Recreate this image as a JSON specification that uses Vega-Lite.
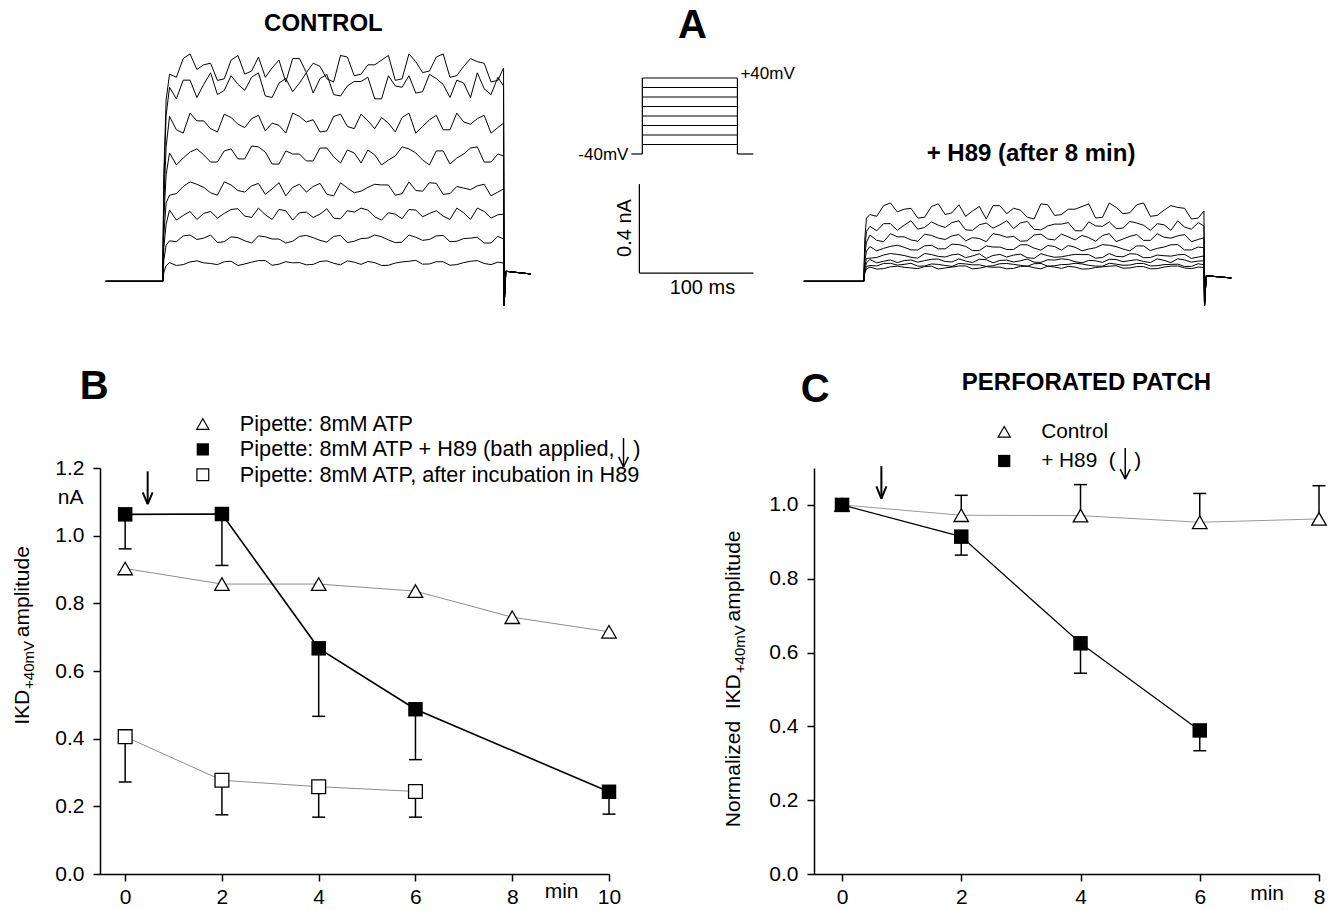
{
"$schema": "https://vega.github.io/schema/vega-lite/v6.json",
"background": "white",
"padding": {"left": 12, "top": 5, "right": 0, "bottom": 0},
"autosize": {"type": "pad"},
"config": {
 "view": {"stroke": null},
 "font": "Liberation Sans",
 "text": {"font": "Liberation Sans", "fontSize": 20, "color": "black"},
 "axis": {"domainColor": "black", "domainWidth": 1.5, "tickColor": "black", "tickWidth": 1.5, "tickSize": 7, "labelFont": "Liberation Sans", "labelFontSize": 21, "labelColor": "black", "grid": false, "labelFlush": false, "labelOverlap": false},
 "axisX": {"labelPadding": 5},
 "axisY": {"labelPadding": 9}
},
"datasets": {
"ctl": [
{"k":1,"t":0,"i":0},{"k":1,"t":50,"i":0},{"k":1,"t":51,"i":0.041},{"k":1,"t":53,"i":0.07},{"k":1,"t":56,"i":0.084},{"k":1,"t":68,"i":0.075},{"k":1,"t":80,"i":0.092},{"k":1,"t":92,"i":0.08},{"k":1,"t":104,"i":0.088},{"k":1,"t":116,"i":0.071},{"k":1,"t":128,"i":0.086},{"k":1,"t":140,"i":0.093},{"k":1,"t":152,"i":0.077},{"k":1,"t":164,"i":0.083},{"k":1,"t":176,"i":0.074},{"k":1,"t":188,"i":0.089},{"k":1,"t":200,"i":0.081},{"k":1,"t":212,"i":0.092},{"k":1,"t":224,"i":0.076},{"k":1,"t":236,"i":0.084},{"k":1,"t":248,"i":0.072},{"k":1,"t":260,"i":0.087},{"k":1,"t":272,"i":0.094},{"k":1,"t":284,"i":0.078},{"k":1,"t":296,"i":0.088},{"k":1,"t":308,"i":0.075},{"k":1,"t":320,"i":0.09},{"k":1,"t":332,"i":0.08},{"k":1,"t":344,"i":0.086},{"k":1,"t":349,"i":0.082},{"k":1,"t":349.5,"i":-0.11},{"k":1,"t":351,"i":0.045},{"k":1,"t":373,"i":0.033},
{"k":1,"t":62,"i":0.071},{"k":1,"t":74,"i":0.087},{"k":1,"t":86,"i":0.083},{"k":1,"t":98,"i":0.075},{"k":1,"t":110,"i":0.09},{"k":1,"t":122,"i":0.078},{"k":1,"t":134,"i":0.093},{"k":1,"t":146,"i":0.072},{"k":1,"t":158,"i":0.088},{"k":1,"t":170,"i":0.084},{"k":1,"t":182,"i":0.076},{"k":1,"t":194,"i":0.092},{"k":1,"t":206,"i":0.074},{"k":1,"t":218,"i":0.086},{"k":1,"t":230,"i":0.089},{"k":1,"t":242,"i":0.071},{"k":1,"t":254,"i":0.082},{"k":1,"t":266,"i":0.09},{"k":1,"t":278,"i":0.077},{"k":1,"t":290,"i":0.088},{"k":1,"t":302,"i":0.072},{"k":1,"t":314,"i":0.084},{"k":1,"t":326,"i":0.093},{"k":1,"t":338,"i":0.075},
{"k":2,"t":0,"i":0},{"k":2,"t":50,"i":0},{"k":2,"t":51,"i":0.095},{"k":2,"t":53,"i":0.162},{"k":2,"t":56,"i":0.182},{"k":2,"t":68,"i":0.204},{"k":2,"t":80,"i":0.188},{"k":2,"t":92,"i":0.208},{"k":2,"t":104,"i":0.178},{"k":2,"t":116,"i":0.196},{"k":2,"t":128,"i":0.172},{"k":2,"t":140,"i":0.2},{"k":2,"t":152,"i":0.19},{"k":2,"t":164,"i":0.18},{"k":2,"t":176,"i":0.206},{"k":2,"t":188,"i":0.184},{"k":2,"t":200,"i":0.202},{"k":2,"t":212,"i":0.174},{"k":2,"t":224,"i":0.192},{"k":2,"t":236,"i":0.208},{"k":2,"t":248,"i":0.186},{"k":2,"t":260,"i":0.176},{"k":2,"t":272,"i":0.198},{"k":2,"t":284,"i":0.188},{"k":2,"t":296,"i":0.206},{"k":2,"t":308,"i":0.18},{"k":2,"t":320,"i":0.194},{"k":2,"t":332,"i":0.172},{"k":2,"t":344,"i":0.202},{"k":2,"t":349,"i":0.19},{"k":2,"t":349.5,"i":-0.11},{"k":2,"t":351,"i":0.045},{"k":2,"t":373,"i":0.033},
{"k":2,"t":62,"i":0.178},{"k":2,"t":74,"i":0.208},{"k":2,"t":86,"i":0.194},{"k":2,"t":98,"i":0.174},{"k":2,"t":110,"i":0.2},{"k":2,"t":122,"i":0.182},{"k":2,"t":134,"i":0.204},{"k":2,"t":146,"i":0.19},{"k":2,"t":158,"i":0.172},{"k":2,"t":170,"i":0.202},{"k":2,"t":182,"i":0.196},{"k":2,"t":194,"i":0.176},{"k":2,"t":206,"i":0.206},{"k":2,"t":218,"i":0.18},{"k":2,"t":230,"i":0.194},{"k":2,"t":242,"i":0.2},{"k":2,"t":254,"i":0.174},{"k":2,"t":266,"i":0.208},{"k":2,"t":278,"i":0.184},{"k":2,"t":290,"i":0.204},{"k":2,"t":302,"i":0.178},{"k":2,"t":314,"i":0.192},{"k":2,"t":326,"i":0.198},{"k":2,"t":338,"i":0.172},
{"k":3,"t":0,"i":0},{"k":3,"t":50,"i":0},{"k":3,"t":51,"i":0.151},{"k":3,"t":53,"i":0.257},{"k":3,"t":56,"i":0.32},{"k":3,"t":68,"i":0.296},{"k":3,"t":80,"i":0.278},{"k":3,"t":92,"i":0.314},{"k":3,"t":104,"i":0.305},{"k":3,"t":116,"i":0.326},{"k":3,"t":128,"i":0.287},{"k":3,"t":140,"i":0.299},{"k":3,"t":152,"i":0.323},{"k":3,"t":164,"i":0.275},{"k":3,"t":176,"i":0.311},{"k":3,"t":188,"i":0.302},{"k":3,"t":200,"i":0.284},{"k":3,"t":212,"i":0.317},{"k":3,"t":224,"i":0.329},{"k":3,"t":236,"i":0.29},{"k":3,"t":248,"i":0.308},{"k":3,"t":260,"i":0.281},{"k":3,"t":272,"i":0.32},{"k":3,"t":284,"i":0.305},{"k":3,"t":296,"i":0.293},{"k":3,"t":308,"i":0.329},{"k":3,"t":320,"i":0.278},{"k":3,"t":332,"i":0.314},{"k":3,"t":344,"i":0.299},{"k":3,"t":349,"i":0.302},{"k":3,"t":349.5,"i":-0.11},{"k":3,"t":351,"i":0.045},{"k":3,"t":373,"i":0.033},
{"k":3,"t":62,"i":0.275},{"k":3,"t":74,"i":0.314},{"k":3,"t":86,"i":0.305},{"k":3,"t":98,"i":0.284},{"k":3,"t":110,"i":0.323},{"k":3,"t":122,"i":0.293},{"k":3,"t":134,"i":0.329},{"k":3,"t":146,"i":0.278},{"k":3,"t":158,"i":0.317},{"k":3,"t":170,"i":0.308},{"k":3,"t":182,"i":0.287},{"k":3,"t":194,"i":0.326},{"k":3,"t":206,"i":0.281},{"k":3,"t":218,"i":0.311},{"k":3,"t":230,"i":0.32},{"k":3,"t":242,"i":0.275},{"k":3,"t":254,"i":0.302},{"k":3,"t":266,"i":0.323},{"k":3,"t":278,"i":0.29},{"k":3,"t":290,"i":0.317},{"k":3,"t":302,"i":0.278},{"k":3,"t":314,"i":0.308},{"k":3,"t":326,"i":0.329},{"k":3,"t":338,"i":0.284},
{"k":4,"t":0,"i":0},{"k":4,"t":50,"i":0},{"k":4,"t":51,"i":0.208},{"k":4,"t":53,"i":0.353},{"k":4,"t":56,"i":0.387},{"k":4,"t":68,"i":0.426},{"k":4,"t":80,"i":0.436},{"k":4,"t":92,"i":0.398},{"k":4,"t":104,"i":0.447},{"k":4,"t":116,"i":0.408},{"k":4,"t":128,"i":0.429},{"k":4,"t":140,"i":0.391},{"k":4,"t":152,"i":0.443},{"k":4,"t":164,"i":0.422},{"k":4,"t":176,"i":0.401},{"k":4,"t":188,"i":0.44},{"k":4,"t":200,"i":0.384},{"k":4,"t":212,"i":0.419},{"k":4,"t":224,"i":0.405},{"k":4,"t":236,"i":0.436},{"k":4,"t":248,"i":0.433},{"k":4,"t":260,"i":0.394},{"k":4,"t":272,"i":0.408},{"k":4,"t":284,"i":0.443},{"k":4,"t":296,"i":0.391},{"k":4,"t":308,"i":0.426},{"k":4,"t":320,"i":0.412},{"k":4,"t":332,"i":0.436},{"k":4,"t":344,"i":0.401},{"k":4,"t":349,"i":0.415},{"k":4,"t":349.5,"i":-0.11},{"k":4,"t":351,"i":0.045},{"k":4,"t":373,"i":0.033},
{"k":4,"t":62,"i":0.394},{"k":4,"t":74,"i":0.447},{"k":4,"t":86,"i":0.422},{"k":4,"t":98,"i":0.387},{"k":4,"t":110,"i":0.433},{"k":4,"t":122,"i":0.401},{"k":4,"t":134,"i":0.44},{"k":4,"t":146,"i":0.415},{"k":4,"t":158,"i":0.384},{"k":4,"t":170,"i":0.436},{"k":4,"t":182,"i":0.426},{"k":4,"t":194,"i":0.391},{"k":4,"t":206,"i":0.443},{"k":4,"t":218,"i":0.398},{"k":4,"t":230,"i":0.422},{"k":4,"t":242,"i":0.433},{"k":4,"t":254,"i":0.387},{"k":4,"t":266,"i":0.447},{"k":4,"t":278,"i":0.405},{"k":4,"t":290,"i":0.44},{"k":4,"t":302,"i":0.394},{"k":4,"t":314,"i":0.419},{"k":4,"t":326,"i":0.429},{"k":4,"t":338,"i":0.384},
{"k":5,"t":0,"i":0},{"k":5,"t":50,"i":0},{"k":5,"t":51,"i":0.282},{"k":5,"t":53,"i":0.479},{"k":5,"t":56,"i":0.577},{"k":5,"t":68,"i":0.554},{"k":5,"t":80,"i":0.595},{"k":5,"t":92,"i":0.536},{"k":5,"t":104,"i":0.586},{"k":5,"t":116,"i":0.55},{"k":5,"t":128,"i":0.608},{"k":5,"t":140,"i":0.581},{"k":5,"t":152,"i":0.527},{"k":5,"t":164,"i":0.572},{"k":5,"t":176,"i":0.541},{"k":5,"t":188,"i":0.599},{"k":5,"t":200,"i":0.559},{"k":5,"t":212,"i":0.59},{"k":5,"t":224,"i":0.532},{"k":5,"t":236,"i":0.568},{"k":5,"t":248,"i":0.545},{"k":5,"t":260,"i":0.604},{"k":5,"t":272,"i":0.577},{"k":5,"t":284,"i":0.523},{"k":5,"t":296,"i":0.586},{"k":5,"t":308,"i":0.554},{"k":5,"t":320,"i":0.599},{"k":5,"t":332,"i":0.536},{"k":5,"t":344,"i":0.572},{"k":5,"t":349,"i":0.563},{"k":5,"t":349.5,"i":-0.11},{"k":5,"t":351,"i":0.045},{"k":5,"t":373,"i":0.033},
{"k":5,"t":62,"i":0.523},{"k":5,"t":74,"i":0.581},{"k":5,"t":86,"i":0.568},{"k":5,"t":98,"i":0.536},{"k":5,"t":110,"i":0.595},{"k":5,"t":122,"i":0.55},{"k":5,"t":134,"i":0.604},{"k":5,"t":146,"i":0.527},{"k":5,"t":158,"i":0.586},{"k":5,"t":170,"i":0.572},{"k":5,"t":182,"i":0.541},{"k":5,"t":194,"i":0.599},{"k":5,"t":206,"i":0.532},{"k":5,"t":218,"i":0.577},{"k":5,"t":230,"i":0.59},{"k":5,"t":242,"i":0.523},{"k":5,"t":254,"i":0.563},{"k":5,"t":266,"i":0.595},{"k":5,"t":278,"i":0.545},{"k":5,"t":290,"i":0.586},{"k":5,"t":302,"i":0.527},{"k":5,"t":314,"i":0.572},{"k":5,"t":326,"i":0.604},{"k":5,"t":338,"i":0.536},
{"k":6,"t":0,"i":0},{"k":6,"t":50,"i":0},{"k":6,"t":51,"i":0.356},{"k":6,"t":53,"i":0.604},{"k":6,"t":56,"i":0.741},{"k":6,"t":68,"i":0.666},{"k":6,"t":80,"i":0.721},{"k":6,"t":92,"i":0.686},{"k":6,"t":104,"i":0.751},{"k":6,"t":116,"i":0.706},{"k":6,"t":128,"i":0.731},{"k":6,"t":140,"i":0.676},{"k":6,"t":152,"i":0.701},{"k":6,"t":164,"i":0.756},{"k":6,"t":176,"i":0.716},{"k":6,"t":188,"i":0.671},{"k":6,"t":200,"i":0.741},{"k":6,"t":212,"i":0.696},{"k":6,"t":224,"i":0.751},{"k":6,"t":236,"i":0.686},{"k":6,"t":248,"i":0.711},{"k":6,"t":260,"i":0.736},{"k":6,"t":272,"i":0.666},{"k":6,"t":284,"i":0.726},{"k":6,"t":296,"i":0.681},{"k":6,"t":308,"i":0.756},{"k":6,"t":320,"i":0.706},{"k":6,"t":332,"i":0.746},{"k":6,"t":344,"i":0.691},{"k":6,"t":349,"i":0.711},{"k":6,"t":349.5,"i":-0.11},{"k":6,"t":351,"i":0.045},{"k":6,"t":373,"i":0.033},
{"k":6,"t":62,"i":0.681},{"k":6,"t":74,"i":0.756},{"k":6,"t":86,"i":0.721},{"k":6,"t":98,"i":0.671},{"k":6,"t":110,"i":0.736},{"k":6,"t":122,"i":0.691},{"k":6,"t":134,"i":0.746},{"k":6,"t":146,"i":0.711},{"k":6,"t":158,"i":0.666},{"k":6,"t":170,"i":0.741},{"k":6,"t":182,"i":0.726},{"k":6,"t":194,"i":0.676},{"k":6,"t":206,"i":0.751},{"k":6,"t":218,"i":0.686},{"k":6,"t":230,"i":0.721},{"k":6,"t":242,"i":0.736},{"k":6,"t":254,"i":0.671},{"k":6,"t":266,"i":0.756},{"k":6,"t":278,"i":0.696},{"k":6,"t":290,"i":0.746},{"k":6,"t":302,"i":0.681},{"k":6,"t":314,"i":0.716},{"k":6,"t":326,"i":0.731},{"k":6,"t":338,"i":0.666},
{"k":7,"t":0,"i":0},{"k":7,"t":50,"i":0},{"k":7,"t":51,"i":0.439},{"k":7,"t":53,"i":0.746},{"k":7,"t":56,"i":0.872},{"k":7,"t":68,"i":0.904},{"k":7,"t":80,"i":0.826},{"k":7,"t":92,"i":0.937},{"k":7,"t":104,"i":0.858},{"k":7,"t":116,"i":0.885},{"k":7,"t":128,"i":0.917},{"k":7,"t":140,"i":0.833},{"k":7,"t":152,"i":0.891},{"k":7,"t":164,"i":0.852},{"k":7,"t":176,"i":0.937},{"k":7,"t":188,"i":0.911},{"k":7,"t":200,"i":0.839},{"k":7,"t":212,"i":0.878},{"k":7,"t":224,"i":0.898},{"k":7,"t":236,"i":0.82},{"k":7,"t":248,"i":0.924},{"k":7,"t":260,"i":0.872},{"k":7,"t":272,"i":0.846},{"k":7,"t":284,"i":0.93},{"k":7,"t":296,"i":0.885},{"k":7,"t":308,"i":0.904},{"k":7,"t":320,"i":0.826},{"k":7,"t":332,"i":0.865},{"k":7,"t":344,"i":0.917},{"k":7,"t":349,"i":0.878},{"k":7,"t":349.5,"i":-0.11},{"k":7,"t":351,"i":0.045},{"k":7,"t":373,"i":0.033},
{"k":7,"t":62,"i":0.82},{"k":7,"t":74,"i":0.904},{"k":7,"t":86,"i":0.885},{"k":7,"t":98,"i":0.839},{"k":7,"t":110,"i":0.924},{"k":7,"t":122,"i":0.858},{"k":7,"t":134,"i":0.937},{"k":7,"t":146,"i":0.826},{"k":7,"t":158,"i":0.911},{"k":7,"t":170,"i":0.891},{"k":7,"t":182,"i":0.846},{"k":7,"t":194,"i":0.93},{"k":7,"t":206,"i":0.833},{"k":7,"t":218,"i":0.898},{"k":7,"t":230,"i":0.917},{"k":7,"t":242,"i":0.82},{"k":7,"t":254,"i":0.878},{"k":7,"t":266,"i":0.924},{"k":7,"t":278,"i":0.852},{"k":7,"t":290,"i":0.911},{"k":7,"t":302,"i":0.826},{"k":7,"t":314,"i":0.891},{"k":7,"t":326,"i":0.937},{"k":7,"t":338,"i":0.839},
{"k":8,"t":0,"i":0},{"k":8,"t":50,"i":0},{"k":8,"t":51,"i":0.48},{"k":8,"t":53,"i":0.815},{"k":8,"t":56,"i":0.931},{"k":8,"t":68,"i":1.001},{"k":8,"t":80,"i":0.952},{"k":8,"t":92,"i":0.98},{"k":8,"t":104,"i":0.91},{"k":8,"t":116,"i":1.015},{"k":8,"t":128,"i":0.945},{"k":8,"t":140,"i":0.917},{"k":8,"t":152,"i":0.994},{"k":8,"t":164,"i":1.001},{"k":8,"t":176,"i":0.938},{"k":8,"t":188,"i":0.966},{"k":8,"t":200,"i":0.896},{"k":8,"t":212,"i":1.008},{"k":8,"t":224,"i":0.931},{"k":8,"t":236,"i":0.973},{"k":8,"t":248,"i":1.015},{"k":8,"t":260,"i":0.91},{"k":8,"t":272,"i":0.987},{"k":8,"t":284,"i":0.945},{"k":8,"t":296,"i":1.022},{"k":8,"t":308,"i":0.924},{"k":8,"t":320,"i":1.001},{"k":8,"t":332,"i":0.98},{"k":8,"t":344,"i":0.903},{"k":8,"t":349,"i":0.959},{"k":8,"t":349.5,"i":-0.11},{"k":8,"t":351,"i":0.045},{"k":8,"t":373,"i":0.033},
{"k":8,"t":62,"i":0.917},{"k":8,"t":74,"i":1.022},{"k":8,"t":86,"i":0.973},{"k":8,"t":98,"i":0.903},{"k":8,"t":110,"i":0.994},{"k":8,"t":122,"i":0.931},{"k":8,"t":134,"i":1.008},{"k":8,"t":146,"i":0.959},{"k":8,"t":158,"i":0.896},{"k":8,"t":170,"i":1.001},{"k":8,"t":182,"i":0.98},{"k":8,"t":194,"i":0.91},{"k":8,"t":206,"i":1.015},{"k":8,"t":218,"i":0.924},{"k":8,"t":230,"i":0.973},{"k":8,"t":242,"i":0.994},{"k":8,"t":254,"i":0.903},{"k":8,"t":266,"i":1.022},{"k":8,"t":278,"i":0.938},{"k":8,"t":290,"i":1.008},{"k":8,"t":302,"i":0.917},{"k":8,"t":314,"i":0.966},{"k":8,"t":326,"i":0.987},{"k":8,"t":338,"i":0.896}
],
"h89": [
{"k":1,"t":0,"i":0},{"k":1,"t":52.6,"i":0},{"k":1,"t":53.5,"i":0.037},{"k":1,"t":55,"i":0.056},{"k":1,"t":58,"i":0.064},{"k":1,"t":70,"i":0.057},{"k":1,"t":82,"i":0.068},{"k":1,"t":94,"i":0.06},{"k":1,"t":106,"i":0.066},{"k":1,"t":118,"i":0.055},{"k":1,"t":130,"i":0.064},{"k":1,"t":142,"i":0.069},{"k":1,"t":154,"i":0.059},{"k":1,"t":166,"i":0.063},{"k":1,"t":178,"i":0.056},{"k":1,"t":190,"i":0.067},{"k":1,"t":202,"i":0.061},{"k":1,"t":214,"i":0.068},{"k":1,"t":226,"i":0.058},{"k":1,"t":238,"i":0.064},{"k":1,"t":250,"i":0.056},{"k":1,"t":262,"i":0.065},{"k":1,"t":274,"i":0.07},{"k":1,"t":286,"i":0.06},{"k":1,"t":298,"i":0.066},{"k":1,"t":310,"i":0.057},{"k":1,"t":322,"i":0.068},{"k":1,"t":334,"i":0.06},{"k":1,"t":346,"i":0.064},{"k":1,"t":351,"i":0.062},{"k":1,"t":351.5,"i":-0.11},{"k":1,"t":353,"i":0.025},{"k":1,"t":375,"i":0.015},
{"k":1,"t":64,"i":0.055},{"k":1,"t":76,"i":0.065},{"k":1,"t":88,"i":0.063},{"k":1,"t":100,"i":0.057},{"k":1,"t":112,"i":0.068},{"k":1,"t":124,"i":0.06},{"k":1,"t":136,"i":0.069},{"k":1,"t":148,"i":0.056},{"k":1,"t":160,"i":0.066},{"k":1,"t":172,"i":0.064},{"k":1,"t":184,"i":0.058},{"k":1,"t":196,"i":0.068},{"k":1,"t":208,"i":0.056},{"k":1,"t":220,"i":0.064},{"k":1,"t":232,"i":0.067},{"k":1,"t":244,"i":0.055},{"k":1,"t":256,"i":0.062},{"k":1,"t":268,"i":0.068},{"k":1,"t":280,"i":0.059},{"k":1,"t":292,"i":0.066},{"k":1,"t":304,"i":0.056},{"k":1,"t":316,"i":0.064},{"k":1,"t":328,"i":0.069},{"k":1,"t":340,"i":0.057},
{"k":2,"t":0,"i":0},{"k":2,"t":52.6,"i":0},{"k":2,"t":53.5,"i":0.044},{"k":2,"t":55,"i":0.067},{"k":2,"t":58,"i":0.071},{"k":2,"t":70,"i":0.08},{"k":2,"t":82,"i":0.073},{"k":2,"t":94,"i":0.081},{"k":2,"t":106,"i":0.069},{"k":2,"t":118,"i":0.076},{"k":2,"t":130,"i":0.067},{"k":2,"t":142,"i":0.078},{"k":2,"t":154,"i":0.074},{"k":2,"t":166,"i":0.07},{"k":2,"t":178,"i":0.08},{"k":2,"t":190,"i":0.072},{"k":2,"t":202,"i":0.079},{"k":2,"t":214,"i":0.068},{"k":2,"t":226,"i":0.075},{"k":2,"t":238,"i":0.081},{"k":2,"t":250,"i":0.072},{"k":2,"t":262,"i":0.068},{"k":2,"t":274,"i":0.077},{"k":2,"t":286,"i":0.073},{"k":2,"t":298,"i":0.08},{"k":2,"t":310,"i":0.07},{"k":2,"t":322,"i":0.076},{"k":2,"t":334,"i":0.067},{"k":2,"t":346,"i":0.079},{"k":2,"t":351,"i":0.074},{"k":2,"t":351.5,"i":-0.11},{"k":2,"t":353,"i":0.025},{"k":2,"t":375,"i":0.015},
{"k":2,"t":64,"i":0.069},{"k":2,"t":76,"i":0.081},{"k":2,"t":88,"i":0.076},{"k":2,"t":100,"i":0.068},{"k":2,"t":112,"i":0.078},{"k":2,"t":124,"i":0.071},{"k":2,"t":136,"i":0.08},{"k":2,"t":148,"i":0.074},{"k":2,"t":160,"i":0.067},{"k":2,"t":172,"i":0.079},{"k":2,"t":184,"i":0.076},{"k":2,"t":196,"i":0.068},{"k":2,"t":208,"i":0.08},{"k":2,"t":220,"i":0.07},{"k":2,"t":232,"i":0.076},{"k":2,"t":244,"i":0.078},{"k":2,"t":256,"i":0.068},{"k":2,"t":268,"i":0.081},{"k":2,"t":280,"i":0.072},{"k":2,"t":292,"i":0.08},{"k":2,"t":304,"i":0.069},{"k":2,"t":316,"i":0.075},{"k":2,"t":328,"i":0.077},{"k":2,"t":340,"i":0.067},
{"k":3,"t":0,"i":0},{"k":3,"t":52.6,"i":0},{"k":3,"t":53.5,"i":0.055},{"k":3,"t":55,"i":0.083},{"k":3,"t":58,"i":0.098},{"k":3,"t":70,"i":0.09},{"k":3,"t":82,"i":0.084},{"k":3,"t":94,"i":0.096},{"k":3,"t":106,"i":0.093},{"k":3,"t":118,"i":0.1},{"k":3,"t":130,"i":0.087},{"k":3,"t":142,"i":0.091},{"k":3,"t":154,"i":0.099},{"k":3,"t":166,"i":0.083},{"k":3,"t":178,"i":0.095},{"k":3,"t":190,"i":0.092},{"k":3,"t":202,"i":0.086},{"k":3,"t":214,"i":0.097},{"k":3,"t":226,"i":0.101},{"k":3,"t":238,"i":0.088},{"k":3,"t":250,"i":0.094},{"k":3,"t":262,"i":0.085},{"k":3,"t":274,"i":0.098},{"k":3,"t":286,"i":0.093},{"k":3,"t":298,"i":0.089},{"k":3,"t":310,"i":0.101},{"k":3,"t":322,"i":0.084},{"k":3,"t":334,"i":0.096},{"k":3,"t":346,"i":0.091},{"k":3,"t":351,"i":0.092},{"k":3,"t":351.5,"i":-0.11},{"k":3,"t":353,"i":0.025},{"k":3,"t":375,"i":0.015},
{"k":3,"t":64,"i":0.083},{"k":3,"t":76,"i":0.096},{"k":3,"t":88,"i":0.093},{"k":3,"t":100,"i":0.086},{"k":3,"t":112,"i":0.099},{"k":3,"t":124,"i":0.089},{"k":3,"t":136,"i":0.101},{"k":3,"t":148,"i":0.084},{"k":3,"t":160,"i":0.097},{"k":3,"t":172,"i":0.094},{"k":3,"t":184,"i":0.087},{"k":3,"t":196,"i":0.1},{"k":3,"t":208,"i":0.085},{"k":3,"t":220,"i":0.095},{"k":3,"t":232,"i":0.098},{"k":3,"t":244,"i":0.083},{"k":3,"t":256,"i":0.092},{"k":3,"t":268,"i":0.099},{"k":3,"t":280,"i":0.088},{"k":3,"t":292,"i":0.097},{"k":3,"t":304,"i":0.084},{"k":3,"t":316,"i":0.094},{"k":3,"t":328,"i":0.101},{"k":3,"t":340,"i":0.086},
{"k":4,"t":0,"i":0},{"k":4,"t":52.6,"i":0},{"k":4,"t":53.5,"i":0.068},{"k":4,"t":55,"i":0.103},{"k":4,"t":58,"i":0.104},{"k":4,"t":70,"i":0.118},{"k":4,"t":82,"i":0.121},{"k":4,"t":94,"i":0.108},{"k":4,"t":106,"i":0.125},{"k":4,"t":118,"i":0.112},{"k":4,"t":130,"i":0.119},{"k":4,"t":142,"i":0.106},{"k":4,"t":154,"i":0.124},{"k":4,"t":166,"i":0.116},{"k":4,"t":178,"i":0.109},{"k":4,"t":190,"i":0.122},{"k":4,"t":202,"i":0.103},{"k":4,"t":214,"i":0.115},{"k":4,"t":226,"i":0.11},{"k":4,"t":238,"i":0.121},{"k":4,"t":250,"i":0.12},{"k":4,"t":262,"i":0.107},{"k":4,"t":274,"i":0.112},{"k":4,"t":286,"i":0.124},{"k":4,"t":298,"i":0.106},{"k":4,"t":310,"i":0.118},{"k":4,"t":322,"i":0.113},{"k":4,"t":334,"i":0.121},{"k":4,"t":346,"i":0.109},{"k":4,"t":351,"i":0.114},{"k":4,"t":351.5,"i":-0.11},{"k":4,"t":353,"i":0.025},{"k":4,"t":375,"i":0.015},
{"k":4,"t":64,"i":0.107},{"k":4,"t":76,"i":0.125},{"k":4,"t":88,"i":0.116},{"k":4,"t":100,"i":0.104},{"k":4,"t":112,"i":0.12},{"k":4,"t":124,"i":0.109},{"k":4,"t":136,"i":0.122},{"k":4,"t":148,"i":0.114},{"k":4,"t":160,"i":0.103},{"k":4,"t":172,"i":0.121},{"k":4,"t":184,"i":0.118},{"k":4,"t":196,"i":0.106},{"k":4,"t":208,"i":0.124},{"k":4,"t":220,"i":0.108},{"k":4,"t":232,"i":0.116},{"k":4,"t":244,"i":0.12},{"k":4,"t":256,"i":0.104},{"k":4,"t":268,"i":0.125},{"k":4,"t":280,"i":0.11},{"k":4,"t":292,"i":0.122},{"k":4,"t":304,"i":0.107},{"k":4,"t":316,"i":0.115},{"k":4,"t":328,"i":0.119},{"k":4,"t":340,"i":0.103},
{"k":5,"t":0,"i":0},{"k":5,"t":52.6,"i":0},{"k":5,"t":53.5,"i":0.091},{"k":5,"t":55,"i":0.136},{"k":5,"t":58,"i":0.156},{"k":5,"t":70,"i":0.148},{"k":5,"t":82,"i":0.162},{"k":5,"t":94,"i":0.141},{"k":5,"t":106,"i":0.159},{"k":5,"t":118,"i":0.146},{"k":5,"t":130,"i":0.167},{"k":5,"t":142,"i":0.157},{"k":5,"t":154,"i":0.138},{"k":5,"t":166,"i":0.154},{"k":5,"t":178,"i":0.143},{"k":5,"t":190,"i":0.164},{"k":5,"t":202,"i":0.149},{"k":5,"t":214,"i":0.161},{"k":5,"t":226,"i":0.14},{"k":5,"t":238,"i":0.153},{"k":5,"t":250,"i":0.145},{"k":5,"t":262,"i":0.165},{"k":5,"t":274,"i":0.156},{"k":5,"t":286,"i":0.137},{"k":5,"t":298,"i":0.159},{"k":5,"t":310,"i":0.148},{"k":5,"t":322,"i":0.164},{"k":5,"t":334,"i":0.141},{"k":5,"t":346,"i":0.154},{"k":5,"t":351,"i":0.151},{"k":5,"t":351.5,"i":-0.11},{"k":5,"t":353,"i":0.025},{"k":5,"t":375,"i":0.015},
{"k":5,"t":64,"i":0.137},{"k":5,"t":76,"i":0.157},{"k":5,"t":88,"i":0.153},{"k":5,"t":100,"i":0.141},{"k":5,"t":112,"i":0.162},{"k":5,"t":124,"i":0.146},{"k":5,"t":136,"i":0.165},{"k":5,"t":148,"i":0.138},{"k":5,"t":160,"i":0.159},{"k":5,"t":172,"i":0.154},{"k":5,"t":184,"i":0.143},{"k":5,"t":196,"i":0.164},{"k":5,"t":208,"i":0.14},{"k":5,"t":220,"i":0.156},{"k":5,"t":232,"i":0.161},{"k":5,"t":244,"i":0.137},{"k":5,"t":256,"i":0.151},{"k":5,"t":268,"i":0.162},{"k":5,"t":280,"i":0.145},{"k":5,"t":292,"i":0.159},{"k":5,"t":304,"i":0.138},{"k":5,"t":316,"i":0.154},{"k":5,"t":328,"i":0.165},{"k":5,"t":340,"i":0.141},
{"k":6,"t":0,"i":0},{"k":6,"t":52.6,"i":0},{"k":6,"t":53.5,"i":0.118},{"k":6,"t":55,"i":0.176},{"k":6,"t":58,"i":0.208},{"k":6,"t":70,"i":0.178},{"k":6,"t":82,"i":0.2},{"k":6,"t":94,"i":0.186},{"k":6,"t":106,"i":0.212},{"k":6,"t":118,"i":0.194},{"k":6,"t":130,"i":0.204},{"k":6,"t":142,"i":0.182},{"k":6,"t":154,"i":0.192},{"k":6,"t":166,"i":0.214},{"k":6,"t":178,"i":0.198},{"k":6,"t":190,"i":0.18},{"k":6,"t":202,"i":0.208},{"k":6,"t":214,"i":0.19},{"k":6,"t":226,"i":0.212},{"k":6,"t":238,"i":0.186},{"k":6,"t":250,"i":0.196},{"k":6,"t":262,"i":0.206},{"k":6,"t":274,"i":0.178},{"k":6,"t":286,"i":0.202},{"k":6,"t":298,"i":0.184},{"k":6,"t":310,"i":0.214},{"k":6,"t":322,"i":0.194},{"k":6,"t":334,"i":0.21},{"k":6,"t":346,"i":0.188},{"k":6,"t":351,"i":0.196},{"k":6,"t":351.5,"i":-0.11},{"k":6,"t":353,"i":0.025},{"k":6,"t":375,"i":0.015},
{"k":6,"t":64,"i":0.184},{"k":6,"t":76,"i":0.214},{"k":6,"t":88,"i":0.2},{"k":6,"t":100,"i":0.18},{"k":6,"t":112,"i":0.206},{"k":6,"t":124,"i":0.188},{"k":6,"t":136,"i":0.21},{"k":6,"t":148,"i":0.196},{"k":6,"t":160,"i":0.178},{"k":6,"t":172,"i":0.208},{"k":6,"t":184,"i":0.202},{"k":6,"t":196,"i":0.182},{"k":6,"t":208,"i":0.212},{"k":6,"t":220,"i":0.186},{"k":6,"t":232,"i":0.2},{"k":6,"t":244,"i":0.206},{"k":6,"t":256,"i":0.18},{"k":6,"t":268,"i":0.214},{"k":6,"t":280,"i":0.19},{"k":6,"t":292,"i":0.21},{"k":6,"t":304,"i":0.184},{"k":6,"t":316,"i":0.198},{"k":6,"t":328,"i":0.204},{"k":6,"t":340,"i":0.178},
{"k":7,"t":0,"i":0},{"k":7,"t":52.6,"i":0},{"k":7,"t":53.5,"i":0.149},{"k":7,"t":55,"i":0.224},{"k":7,"t":58,"i":0.247},{"k":7,"t":70,"i":0.259},{"k":7,"t":82,"i":0.229},{"k":7,"t":94,"i":0.272},{"k":7,"t":106,"i":0.242},{"k":7,"t":118,"i":0.252},{"k":7,"t":130,"i":0.264},{"k":7,"t":142,"i":0.231},{"k":7,"t":154,"i":0.254},{"k":7,"t":166,"i":0.239},{"k":7,"t":178,"i":0.272},{"k":7,"t":190,"i":0.262},{"k":7,"t":202,"i":0.234},{"k":7,"t":214,"i":0.249},{"k":7,"t":226,"i":0.257},{"k":7,"t":238,"i":0.227},{"k":7,"t":250,"i":0.267},{"k":7,"t":262,"i":0.247},{"k":7,"t":274,"i":0.237},{"k":7,"t":286,"i":0.269},{"k":7,"t":298,"i":0.252},{"k":7,"t":310,"i":0.259},{"k":7,"t":322,"i":0.229},{"k":7,"t":334,"i":0.244},{"k":7,"t":346,"i":0.264},{"k":7,"t":351,"i":0.249},{"k":7,"t":351.5,"i":-0.11},{"k":7,"t":353,"i":0.025},{"k":7,"t":375,"i":0.015},
{"k":7,"t":64,"i":0.227},{"k":7,"t":76,"i":0.259},{"k":7,"t":88,"i":0.252},{"k":7,"t":100,"i":0.234},{"k":7,"t":112,"i":0.267},{"k":7,"t":124,"i":0.242},{"k":7,"t":136,"i":0.272},{"k":7,"t":148,"i":0.229},{"k":7,"t":160,"i":0.262},{"k":7,"t":172,"i":0.254},{"k":7,"t":184,"i":0.237},{"k":7,"t":196,"i":0.269},{"k":7,"t":208,"i":0.231},{"k":7,"t":220,"i":0.257},{"k":7,"t":232,"i":0.264},{"k":7,"t":244,"i":0.227},{"k":7,"t":256,"i":0.249},{"k":7,"t":268,"i":0.267},{"k":7,"t":280,"i":0.239},{"k":7,"t":292,"i":0.262},{"k":7,"t":304,"i":0.229},{"k":7,"t":316,"i":0.254},{"k":7,"t":328,"i":0.272},{"k":7,"t":340,"i":0.234},
{"k":8,"t":0,"i":0},{"k":8,"t":52.6,"i":0},{"k":8,"t":53.5,"i":0.19},{"k":8,"t":55,"i":0.284},{"k":8,"t":58,"i":0.3},{"k":8,"t":70,"i":0.34},{"k":8,"t":82,"i":0.312},{"k":8,"t":94,"i":0.328},{"k":8,"t":106,"i":0.288},{"k":8,"t":118,"i":0.348},{"k":8,"t":130,"i":0.308},{"k":8,"t":142,"i":0.292},{"k":8,"t":154,"i":0.336},{"k":8,"t":166,"i":0.34},{"k":8,"t":178,"i":0.304},{"k":8,"t":190,"i":0.32},{"k":8,"t":202,"i":0.28},{"k":8,"t":214,"i":0.344},{"k":8,"t":226,"i":0.3},{"k":8,"t":238,"i":0.324},{"k":8,"t":250,"i":0.348},{"k":8,"t":262,"i":0.288},{"k":8,"t":274,"i":0.332},{"k":8,"t":286,"i":0.308},{"k":8,"t":298,"i":0.352},{"k":8,"t":310,"i":0.296},{"k":8,"t":322,"i":0.34},{"k":8,"t":334,"i":0.328},{"k":8,"t":346,"i":0.284},{"k":8,"t":351,"i":0.316},{"k":8,"t":351.5,"i":-0.11},{"k":8,"t":353,"i":0.025},{"k":8,"t":375,"i":0.015},
{"k":8,"t":64,"i":0.292},{"k":8,"t":76,"i":0.352},{"k":8,"t":88,"i":0.324},{"k":8,"t":100,"i":0.284},{"k":8,"t":112,"i":0.336},{"k":8,"t":124,"i":0.3},{"k":8,"t":136,"i":0.344},{"k":8,"t":148,"i":0.316},{"k":8,"t":160,"i":0.28},{"k":8,"t":172,"i":0.34},{"k":8,"t":184,"i":0.328},{"k":8,"t":196,"i":0.288},{"k":8,"t":208,"i":0.348},{"k":8,"t":220,"i":0.296},{"k":8,"t":232,"i":0.324},{"k":8,"t":244,"i":0.336},{"k":8,"t":256,"i":0.284},{"k":8,"t":268,"i":0.352},{"k":8,"t":280,"i":0.304},{"k":8,"t":292,"i":0.344},{"k":8,"t":304,"i":0.292},{"k":8,"t":316,"i":0.32},{"k":8,"t":328,"i":0.332},{"k":8,"t":340,"i":0.28}
],
"steps": [{"v":-30},{"v":-20},{"v":-10},{"v":0},{"v":10},{"v":20},{"v":30},{"v":40}],
"B": [
{"s":"tri","x":0,"y":0.903},{"s":"tri","x":2,"y":0.857},{"s":"tri","x":4,"y":0.857},{"s":"tri","x":6,"y":0.836},{"s":"tri","x":8,"y":0.759},{"s":"tri","x":10,"y":0.716},
{"s":"fsq","x":0,"y":1.063,"e":0.961},{"s":"fsq","x":2,"y":1.064,"e":0.912},{"s":"fsq","x":4,"y":0.667,"e":0.466},{"s":"fsq","x":6,"y":0.487,"e":0.338},{"s":"fsq","x":10,"y":0.243,"e":0.177},
{"s":"osq","x":0,"y":0.406,"e":0.272},{"s":"osq","x":2,"y":0.277,"e":0.175},{"s":"osq","x":4,"y":0.258,"e":0.168},{"s":"osq","x":6,"y":0.244,"e":0.168}
],
"C": [
{"s":"ctl","x":0,"y":1.0},{"s":"ctl","x":2,"y":0.972,"e":1.026},{"s":"ctl","x":4,"y":0.971,"e":1.055},{"s":"ctl","x":6,"y":0.953,"e":1.031},{"s":"ctl","x":8,"y":0.962,"e":1.052},
{"s":"h89","x":0,"y":1.0},{"s":"h89","x":2,"y":0.914,"e":0.864},{"s":"h89","x":4,"y":0.625,"e":0.544},{"s":"h89","x":6,"y":0.389,"e":0.334}
]
},
"bounds": "flush",
"align": "none",
"columns": 3,
"spacing": {"row": 160, "column": 0},
"concat": [
  {
   "width": 433.2, "height": 262,
   "layer": [
    {"data": {"name": "ctl"}, "mark": {"type": "line", "color": "black", "strokeWidth": 1},
     "encoding": {
      "x": {"field": "t", "type": "quantitative", "scale": {"domain": [-5, 375], "nice": false, "zero": false}, "axis": null},
      "y": {"field": "i", "type": "quantitative", "scale": {"domain": [-0.12, 1.0575], "nice": false, "zero": false}, "axis": null},
      "detail": {"field": "k", "type": "nominal"}}},
    {"data": {"values": [{}]}, "mark": {"type": "text", "fontSize": 24, "fontWeight": "bold", "align": "center", "baseline": "middle"},
     "encoding": {"x": {"datum": 190.96, "type": "quantitative", "axis": null}, "y": {"datum": 1.1564, "type": "quantitative", "axis": null}, "text": {"value": "CONTROL"}}}
   ]
  },
  {
   "width": 204.4, "height": 262,
   "resolve": {"scale": {"y": "independent"}},
   "layer": [
    {"data": {"values": [{}]}, "mark": {"type": "rule", "color": "black", "strokeWidth": 1.3},
     "encoding": {"x": {"datum": 75.6, "type": "quantitative", "scale": {"domain": [48.95, 228.25], "nice": false, "zero": false}, "axis": null},
      "y": {"datum": 0.037, "type": "quantitative", "scale": {"domain": [-0.12, 1.0575], "nice": false, "zero": false}, "axis": null},
      "y2": {"datum": 0.437}}},
    {"data": {"values": [{}]}, "mark": {"type": "rule", "color": "black", "strokeWidth": 1.3},
     "encoding": {"x": {"datum": 75.6, "type": "quantitative", "axis": null}, "x2": {"datum": 175.6},
      "y": {"datum": 0.037, "type": "quantitative", "scale": {"domain": [-0.12, 1.0575], "nice": false, "zero": false}, "axis": null}}},
    {"data": {"values": [{}]}, "mark": {"type": "text", "fontSize": 20, "angle": 270, "align": "center", "baseline": "middle"},
     "encoding": {"x": {"datum": 63.3, "type": "quantitative", "axis": null},
      "y": {"datum": 0.2395, "type": "quantitative", "scale": {"domain": [-0.12, 1.0575], "nice": false, "zero": false}, "axis": null},
      "text": {"value": "0.4 nA"}}},
    {"data": {"values": [{}]}, "mark": {"type": "text", "fontSize": 20, "align": "center", "baseline": "middle"},
     "encoding": {"x": {"datum": 130.9, "type": "quantitative", "axis": null},
      "y": {"datum": -0.03, "type": "quantitative", "scale": {"domain": [-0.12, 1.0575], "nice": false, "zero": false}, "axis": null},
      "text": {"value": "100 ms"}}},
    {"data": {"values": [{}]}, "mark": {"type": "text", "fontSize": 40, "fontWeight": "bold", "align": "center", "baseline": "middle"},
     "encoding": {"x": {"datum": 122.1, "type": "quantitative", "axis": null},
      "y": {"datum": 1.1474, "type": "quantitative", "scale": {"domain": [-0.12, 1.0575], "nice": false, "zero": false}, "axis": null},
      "text": {"value": "A"}}},
    {"data": {"name": "steps"}, "mark": {"type": "rule", "color": "black", "strokeWidth": 1.2},
     "encoding": {"x": {"datum": 78.2, "type": "quantitative", "axis": null}, "x2": {"datum": 161.6},
      "y": {"field": "v", "type": "quantitative", "scale": {"domain": [-202.1, 73.68], "nice": false, "zero": false}, "axis": null}}},
    {"data": {"values": [{}]}, "mark": {"type": "rule", "color": "black", "strokeWidth": 1.2},
     "encoding": {"x": {"datum": 78.2, "type": "quantitative", "axis": null},
      "y": {"datum": -40, "type": "quantitative", "scale": {"domain": [-202.1, 73.68], "nice": false, "zero": false}, "axis": null}, "y2": {"datum": 40}}},
    {"data": {"values": [{}]}, "mark": {"type": "rule", "color": "black", "strokeWidth": 1.2},
     "encoding": {"x": {"datum": 161.6, "type": "quantitative", "axis": null},
      "y": {"datum": -40, "type": "quantitative", "scale": {"domain": [-202.1, 73.68], "nice": false, "zero": false}, "axis": null}, "y2": {"datum": 40}}},
    {"data": {"values": [{}]}, "mark": {"type": "rule", "color": "black", "strokeWidth": 1.2},
     "encoding": {"x": {"datum": 68.6, "type": "quantitative", "axis": null}, "x2": {"datum": 78.2},
      "y": {"datum": -40, "type": "quantitative", "scale": {"domain": [-202.1, 73.68], "nice": false, "zero": false}, "axis": null}}},
    {"data": {"values": [{}]}, "mark": {"type": "rule", "color": "black", "strokeWidth": 1.2},
     "encoding": {"x": {"datum": 161.6, "type": "quantitative", "axis": null}, "x2": {"datum": 175.6},
      "y": {"datum": -40, "type": "quantitative", "scale": {"domain": [-202.1, 73.68], "nice": false, "zero": false}, "axis": null}}},
    {"data": {"values": [{}]}, "mark": {"type": "text", "fontSize": 17, "align": "left", "baseline": "middle"},
     "encoding": {"x": {"datum": 164.2, "type": "quantitative", "axis": null},
      "y": {"datum": 44, "type": "quantitative", "scale": {"domain": [-202.1, 73.68], "nice": false, "zero": false}, "axis": null},
      "text": {"value": "+40mV"}}},
    {"data": {"values": [{}]}, "mark": {"type": "text", "fontSize": 17, "align": "right", "baseline": "middle"},
     "encoding": {"x": {"datum": 66, "type": "quantitative", "axis": null},
      "y": {"datum": -41, "type": "quantitative", "scale": {"domain": [-202.1, 73.68], "nice": false, "zero": false}, "axis": null},
      "text": {"value": "-40mV"}}}
   ]
  },
  {
   "width": 418, "height": 262,
   "layer": [
    {"data": {"name": "h89"}, "mark": {"type": "line", "color": "black", "strokeWidth": 1},
     "encoding": {
      "x": {"field": "t", "type": "quantitative", "scale": {"domain": [8.95, 375.6], "nice": false, "zero": false}, "axis": null},
      "y": {"field": "i", "type": "quantitative", "scale": {"domain": [-0.12, 1.0575], "nice": false, "zero": false}, "axis": null},
      "detail": {"field": "k", "type": "nominal"}}},
    {"data": {"values": [{}]}, "mark": {"type": "text", "fontSize": 24, "fontWeight": "bold", "align": "center", "baseline": "middle"},
     "encoding": {"x": {"datum": 199.3, "type": "quantitative", "axis": null}, "y": {"datum": 0.572, "type": "quantitative", "axis": null}, "text": {"value": "+ H89 (after 8 min)"}}}
   ]
  },
  {
   "width": 509, "height": 406,
   "data": {"name": "B"},
   "layer": [
    {"transform": [{"filter": "datum.s == 'tri'"}], "mark": {"type": "line", "color": "#8c8c8c", "strokeWidth": 1},
     "encoding": {
      "x": {"field": "x", "type": "quantitative", "scale": {"domain": [-0.52, 10], "nice": false, "zero": false}, "axis": {"values": [0, 2, 4, 6, 8, 10], "format": "d", "title": null}},
      "y": {"field": "y", "type": "quantitative", "scale": {"domain": [0, 1.2], "nice": false, "zero": false}, "axis": {"values": [0, 0.2, 0.4, 0.6, 0.8, 1.0, 1.2], "format": ".1f", "title": null}}}},
    {"transform": [{"filter": "datum.s == 'osq'"}], "mark": {"type": "line", "color": "#8c8c8c", "strokeWidth": 1},
     "encoding": {"x": {"field": "x", "type": "quantitative"}, "y": {"field": "y", "type": "quantitative"}}},
    {"transform": [{"filter": "datum.s == 'fsq'"}], "mark": {"type": "line", "color": "black", "strokeWidth": 1.6},
     "encoding": {"x": {"field": "x", "type": "quantitative"}, "y": {"field": "y", "type": "quantitative"}}},
    {"transform": [{"filter": "isValid(datum.e)"}], "mark": {"type": "rule", "color": "black", "strokeWidth": 1.5},
     "encoding": {"x": {"field": "x", "type": "quantitative"}, "y": {"field": "y", "type": "quantitative"}, "y2": {"field": "e"}}},
    {"transform": [{"filter": "isValid(datum.e)"}], "mark": {"type": "tick", "color": "black", "orient": "horizontal", "size": 13, "thickness": 1.5, "opacity": 1},
     "encoding": {"x": {"field": "x", "type": "quantitative"}, "y": {"field": "e", "type": "quantitative"}}},
    {"transform": [{"filter": "datum.s == 'tri'"}], "mark": {"type": "point", "shape": "triangle-up", "filled": true, "fill": "white", "stroke": "black", "strokeWidth": 1.3, "size": 210, "opacity": 1},
     "encoding": {"x": {"field": "x", "type": "quantitative"}, "y": {"field": "y", "type": "quantitative"}}},
    {"transform": [{"filter": "datum.s == 'osq'"}], "mark": {"type": "point", "shape": "square", "filled": true, "fill": "white", "stroke": "black", "strokeWidth": 1.3, "size": 190, "opacity": 1},
     "encoding": {"x": {"field": "x", "type": "quantitative"}, "y": {"field": "y", "type": "quantitative"}}},
    {"transform": [{"filter": "datum.s == 'fsq'"}], "mark": {"type": "point", "shape": "square", "filled": true, "color": "black", "size": 210, "opacity": 1},
     "encoding": {"x": {"field": "x", "type": "quantitative"}, "y": {"field": "y", "type": "quantitative"}}},
    {"data": {"values": [{}]}, "mark": {"type": "rule", "color": "black", "strokeWidth": 2},
     "encoding": {"x": {"datum": 0.465, "type": "quantitative"}, "y": {"datum": 1.19, "type": "quantitative"}, "y2": {"datum": 1.093}}},
    {"data": {"values": [{}]}, "mark": {"type": "rule", "color": "black", "strokeWidth": 2},
     "encoding": {"x": {"datum": 0.362, "type": "quantitative"}, "x2": {"datum": 0.465}, "y": {"datum": 1.128, "type": "quantitative"}, "y2": {"datum": 1.093}}},
    {"data": {"values": [{}]}, "mark": {"type": "rule", "color": "black", "strokeWidth": 2},
     "encoding": {"x": {"datum": 0.568, "type": "quantitative"}, "x2": {"datum": 0.465}, "y": {"datum": 1.128, "type": "quantitative"}, "y2": {"datum": 1.093}}},
    {"data": {"values": [{}]}, "mark": {"type": "point", "shape": "triangle-up", "filled": true, "fill": "white", "stroke": "black", "strokeWidth": 1.2, "size": 150, "opacity": 1},
     "encoding": {"x": {"datum": 1.605, "type": "quantitative"}, "y": {"datum": 1.33, "type": "quantitative"}}},
    {"data": {"values": [{}]}, "mark": {"type": "point", "shape": "square", "filled": true, "color": "black", "size": 150, "opacity": 1},
     "encoding": {"x": {"datum": 1.605, "type": "quantitative"}, "y": {"datum": 1.255, "type": "quantitative"}}},
    {"data": {"values": [{}]}, "mark": {"type": "point", "shape": "square", "filled": true, "fill": "white", "stroke": "black", "strokeWidth": 1.2, "size": 140, "opacity": 1},
     "encoding": {"x": {"datum": 1.605, "type": "quantitative"}, "y": {"datum": 1.18, "type": "quantitative"}}},
    {"data": {"values": [{}]}, "mark": {"type": "text", "fontSize": 21.7, "align": "left", "baseline": "middle"},
     "encoding": {"x": {"datum": 2.37, "type": "quantitative"}, "y": {"datum": 1.33, "type": "quantitative"}, "text": {"value": "Pipette: 8mM ATP"}}},
    {"data": {"values": [{}]}, "mark": {"type": "text", "fontSize": 21.7, "align": "left", "baseline": "middle"},
     "encoding": {"x": {"datum": 2.37, "type": "quantitative"}, "y": {"datum": 1.255, "type": "quantitative"}, "text": {"value": "Pipette: 8mM ATP + H89 (bath applied,"}}},
    {"data": {"values": [{}]}, "mark": {"type": "rule", "color": "black", "strokeWidth": 1.5},
     "encoding": {"x": {"datum": 10.3, "type": "quantitative"}, "y": {"datum": 1.289, "type": "quantitative"}, "y2": {"datum": 1.203}}},
    {"data": {"values": [{}]}, "mark": {"type": "rule", "color": "black", "strokeWidth": 1.5},
     "encoding": {"x": {"datum": 10.2, "type": "quantitative"}, "x2": {"datum": 10.3}, "y": {"datum": 1.233, "type": "quantitative"}, "y2": {"datum": 1.203}}},
    {"data": {"values": [{}]}, "mark": {"type": "rule", "color": "black", "strokeWidth": 1.5},
     "encoding": {"x": {"datum": 10.4, "type": "quantitative"}, "x2": {"datum": 10.3}, "y": {"datum": 1.233, "type": "quantitative"}, "y2": {"datum": 1.203}}},
    {"data": {"values": [{}]}, "mark": {"type": "text", "fontSize": 21.7, "align": "left", "baseline": "middle"},
     "encoding": {"x": {"datum": 10.5, "type": "quantitative"}, "y": {"datum": 1.255, "type": "quantitative"}, "text": {"value": ")"}}},
    {"data": {"values": [{}]}, "mark": {"type": "text", "fontSize": 21.7, "align": "left", "baseline": "middle"},
     "encoding": {"x": {"datum": 2.37, "type": "quantitative"}, "y": {"datum": 1.18, "type": "quantitative"}, "text": {"value": "Pipette: 8mM ATP, after incubation in H89"}}},
    {"data": {"values": [{}]}, "mark": {"type": "text", "fontSize": 40, "fontWeight": "bold", "align": "center", "baseline": "middle"},
     "encoding": {"x": {"datum": -0.64, "type": "quantitative"}, "y": {"datum": 1.44, "type": "quantitative"}, "text": {"value": "B"}}},
    {"data": {"values": [{}]}, "mark": {"type": "text", "fontSize": 21, "align": "right", "baseline": "middle"},
     "encoding": {"x": {"datum": -0.86, "type": "quantitative"}, "y": {"datum": 1.11, "type": "quantitative"}, "text": {"value": "nA"}}},
    {"data": {"values": [{}]}, "mark": {"type": "text", "fontSize": 21, "align": "center", "baseline": "middle"},
     "encoding": {"x": {"datum": 9.02, "type": "quantitative"}, "y": {"datum": -0.053, "type": "quantitative"}, "text": {"value": "min"}}},
    {"data": {"values": [{}]}, "mark": {"type": "text", "fontSize": 21, "angle": 270, "align": "left", "baseline": "alphabetic"},
     "encoding": {"x": {"datum": -1.978, "type": "quantitative"}, "y": {"datum": 0.441, "type": "quantitative"}, "text": {"value": "IKD"}}},
    {"data": {"values": [{}]}, "mark": {"type": "text", "fontSize": 15, "angle": 270, "align": "left", "baseline": "alphabetic"},
     "encoding": {"x": {"datum": -1.874, "type": "quantitative"}, "y": {"datum": 0.547, "type": "quantitative"}, "text": {"value": "+40mV"}}},
    {"data": {"values": [{}]}, "mark": {"type": "text", "fontSize": 21, "angle": 270, "align": "left", "baseline": "alphabetic"},
     "encoding": {"x": {"datum": -1.978, "type": "quantitative"}, "y": {"datum": 0.70, "type": "quantitative"}, "text": {"value": "amplitude"}}}
   ]
  },
  {
   "width": 204.4, "height": 406,
   "data": {"values": []},
   "mark": "point"
  },
  {
   "width": 505, "height": 406,
   "data": {"name": "C"},
   "layer": [
    {"transform": [{"filter": "datum.s == 'ctl'"}], "mark": {"type": "line", "color": "#999999", "strokeWidth": 1},
     "encoding": {
      "x": {"field": "x", "type": "quantitative", "scale": {"domain": [-0.47, 8], "nice": false, "zero": false}, "axis": {"values": [0, 2, 4, 6, 8], "format": "d", "title": null}},
      "y": {"field": "y", "type": "quantitative", "scale": {"domain": [0, 1.1], "nice": false, "zero": false}, "axis": {"values": [0, 0.2, 0.4, 0.6, 0.8, 1.0], "format": ".1f", "title": null}}}},
    {"transform": [{"filter": "datum.s == 'h89'"}], "mark": {"type": "line", "color": "black", "strokeWidth": 1.2},
     "encoding": {"x": {"field": "x", "type": "quantitative"}, "y": {"field": "y", "type": "quantitative"}}},
    {"transform": [{"filter": "isValid(datum.e)"}], "mark": {"type": "rule", "color": "black", "strokeWidth": 1.5},
     "encoding": {"x": {"field": "x", "type": "quantitative"}, "y": {"field": "y", "type": "quantitative"}, "y2": {"field": "e"}}},
    {"transform": [{"filter": "isValid(datum.e)"}], "mark": {"type": "tick", "color": "black", "orient": "horizontal", "size": 13, "thickness": 1.5, "opacity": 1},
     "encoding": {"x": {"field": "x", "type": "quantitative"}, "y": {"field": "e", "type": "quantitative"}}},
    {"transform": [{"filter": "datum.s == 'ctl'"}], "mark": {"type": "point", "shape": "triangle-up", "filled": true, "fill": "white", "stroke": "black", "strokeWidth": 1.3, "size": 210, "opacity": 1},
     "encoding": {"x": {"field": "x", "type": "quantitative"}, "y": {"field": "y", "type": "quantitative"}}},
    {"transform": [{"filter": "datum.s == 'h89'"}], "mark": {"type": "point", "shape": "square", "filled": true, "color": "black", "size": 210, "opacity": 1},
     "encoding": {"x": {"field": "x", "type": "quantitative"}, "y": {"field": "y", "type": "quantitative"}}},
    {"data": {"values": [{}]}, "mark": {"type": "rule", "color": "black", "strokeWidth": 2},
     "encoding": {"x": {"datum": 0.66, "type": "quantitative"}, "y": {"datum": 1.105, "type": "quantitative"}, "y2": {"datum": 1.017}}},
    {"data": {"values": [{}]}, "mark": {"type": "rule", "color": "black", "strokeWidth": 2},
     "encoding": {"x": {"datum": 0.576, "type": "quantitative"}, "x2": {"datum": 0.66}, "y": {"datum": 1.05, "type": "quantitative"}, "y2": {"datum": 1.017}}},
    {"data": {"values": [{}]}, "mark": {"type": "rule", "color": "black", "strokeWidth": 2},
     "encoding": {"x": {"datum": 0.744, "type": "quantitative"}, "x2": {"datum": 0.66}, "y": {"datum": 1.05, "type": "quantitative"}, "y2": {"datum": 1.017}}},
    {"data": {"values": [{}]}, "mark": {"type": "point", "shape": "triangle-up", "filled": true, "fill": "white", "stroke": "black", "strokeWidth": 1.2, "size": 150, "opacity": 1},
     "encoding": {"x": {"datum": 2.72, "type": "quantitative"}, "y": {"datum": 1.198, "type": "quantitative"}}},
    {"data": {"values": [{}]}, "mark": {"type": "point", "shape": "square", "filled": true, "color": "black", "size": 150, "opacity": 1},
     "encoding": {"x": {"datum": 2.72, "type": "quantitative"}, "y": {"datum": 1.119, "type": "quantitative"}}},
    {"data": {"values": [{}]}, "mark": {"type": "text", "fontSize": 20.8, "align": "left", "baseline": "middle"},
     "encoding": {"x": {"datum": 3.34, "type": "quantitative"}, "y": {"datum": 1.198, "type": "quantitative"}, "text": {"value": "Control"}}},
    {"data": {"values": [{}]}, "mark": {"type": "text", "fontSize": 20.8, "align": "left", "baseline": "middle"},
     "encoding": {"x": {"datum": 3.34, "type": "quantitative"}, "y": {"datum": 1.119, "type": "quantitative"}, "text": {"value": "+ H89\u00a0 ("}}},
    {"data": {"values": [{}]}, "mark": {"type": "rule", "color": "black", "strokeWidth": 1.5},
     "encoding": {"x": {"datum": 4.75, "type": "quantitative"}, "y": {"datum": 1.154, "type": "quantitative"}, "y2": {"datum": 1.07}}},
    {"data": {"values": [{}]}, "mark": {"type": "rule", "color": "black", "strokeWidth": 1.5},
     "encoding": {"x": {"datum": 4.666, "type": "quantitative"}, "x2": {"datum": 4.75}, "y": {"datum": 1.097, "type": "quantitative"}, "y2": {"datum": 1.07}}},
    {"data": {"values": [{}]}, "mark": {"type": "rule", "color": "black", "strokeWidth": 1.5},
     "encoding": {"x": {"datum": 4.834, "type": "quantitative"}, "x2": {"datum": 4.75}, "y": {"datum": 1.097, "type": "quantitative"}, "y2": {"datum": 1.07}}},
    {"data": {"values": [{}]}, "mark": {"type": "text", "fontSize": 20.8, "align": "left", "baseline": "middle"},
     "encoding": {"x": {"datum": 4.9, "type": "quantitative"}, "y": {"datum": 1.119, "type": "quantitative"}, "text": {"value": ")"}}},
    {"data": {"values": [{}]}, "mark": {"type": "text", "fontSize": 40, "fontWeight": "bold", "align": "center", "baseline": "middle"},
     "encoding": {"x": {"datum": -0.45, "type": "quantitative"}, "y": {"datum": 1.31, "type": "quantitative"}, "text": {"value": "C"}}},
    {"data": {"values": [{}]}, "mark": {"type": "text", "fontSize": 24, "fontWeight": "bold", "align": "center", "baseline": "middle"},
     "encoding": {"x": {"datum": 4.1, "type": "quantitative"}, "y": {"datum": 1.329, "type": "quantitative"}, "text": {"value": "PERFORATED PATCH"}}},
    {"data": {"values": [{}]}, "mark": {"type": "text", "fontSize": 21, "align": "center", "baseline": "middle"},
     "encoding": {"x": {"datum": 7.13, "type": "quantitative"}, "y": {"datum": -0.054, "type": "quantitative"}, "text": {"value": "min"}}},
    {"data": {"values": [{}]}, "mark": {"type": "text", "fontSize": 21, "angle": 270, "align": "left", "baseline": "alphabetic"},
     "encoding": {"x": {"datum": -1.711, "type": "quantitative"}, "y": {"datum": 0.127, "type": "quantitative"}, "text": {"value": "Normalized\u00a0 IKD"}}},
    {"data": {"values": [{}]}, "mark": {"type": "text", "fontSize": 15, "angle": 270, "align": "left", "baseline": "alphabetic"},
     "encoding": {"x": {"datum": -1.628, "type": "quantitative"}, "y": {"datum": 0.544, "type": "quantitative"}, "text": {"value": "+40mV"}}},
    {"data": {"values": [{}]}, "mark": {"type": "text", "fontSize": 21, "angle": 270, "align": "left", "baseline": "alphabetic"},
     "encoding": {"x": {"datum": -1.711, "type": "quantitative"}, "y": {"datum": 0.684, "type": "quantitative"}, "text": {"value": "amplitude"}}}
   ]
  }
]
}
